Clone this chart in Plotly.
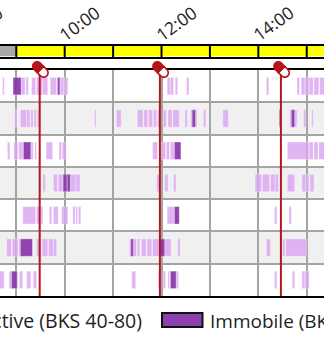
import numpy as np
import plotly.graph_objects as go

W, H = 324, 339

# ---------------- data ----------------
grid_hours = [9, 10, 11, 12, 13, 14, 15]
label_hours = [8, 10, 12, 14]
label_text = ["08:00", "10:00", "12:00", "14:00"]
monitor_start = "09:00"          # gray before, yellow after
view_range = ["08:39.8", "15:21.4"]
med_times = ["09:29", "11:58", "14:28"]
legend_labels = ["Active (BKS 40-80)", "Immobile (BKS 0-40)"]

active_r1 = [("08:43", "08:45"), ("09:06", "09:11"), ("09:12", "09:15"), ("09:19", "09:24"), ("09:25", "09:28"),
             ("09:29", "09:33"), ("09:33", "09:39"), ("09:42", "09:50"), ("09:54", "09:59"), ("10:00", "10:04"),
             ("12:07", "12:11"), ("12:11", "12:15"), ("12:17", "12:20"), ("12:31", "12:34"), ("14:10", "14:13"),
             ("14:48", "14:51"), ("14:53", "14:58"), ("14:58", "15:03"), ("15:03", "15:08"), ("15:09", "15:15"),
             ("15:16", "15:22")]
immobile_r1 = [("08:56", "09:06"), ("09:51", "09:54")]

active_r2 = [("08:58", "09:01"), ("09:05", "09:13"), ("09:13", "09:17"), ("09:18", "09:21"), ("09:22", "09:25"),
             ("09:26", "09:28"), ("10:37", "10:39"), ("11:04", "11:10"), ("11:30", "11:37"), ("11:38", "11:43"),
             ("11:44", "11:49"), ("11:50", "11:54"), ("11:55", "11:58"), ("12:02", "12:06"), ("12:08", "12:13"),
             ("12:14", "12:22"), ("12:29", "12:32"), ("12:36", "12:44"), ("12:52", "12:55"), ("13:16", "13:23"),
             ("14:39", "14:48"), ("14:56", "14:59"), ("15:06", "15:08")]
immobile_r2 = [("12:38", "12:42"), ("14:26", "14:28"), ("14:41", "14:45")]

active_r3 = [("08:49", "08:52"), ("08:57", "09:02"), ("09:03", "09:08"), ("09:07", "09:12"), ("09:18", "09:21"),
             ("09:23", "09:25"), ("09:37", "09:45"), ("09:53", "09:56"), ("09:57", "10:02"), ("11:49", "11:55"),
             ("12:00", "12:05"), ("12:06", "12:10"), ("12:11", "12:16"), ("14:36", "15:03"), ("15:03", "15:08"),
             ("15:09", "15:14"), ("15:15", "15:22")]
immobile_r3 = [("09:09", "09:18"), ("12:16", "12:24")]

active_r4 = [("09:33", "09:36"), ("09:46", "09:51"), ("09:52", "09:58"), ("10:07", "10:14"), ("10:14", "10:19"),
             ("11:54", "11:59"), ("12:04", "12:08"), ("12:15", "12:18"), ("13:56", "14:04"), ("14:05", "14:14"),
             ("14:15", "14:21"), ("14:21", "14:25"), ("14:36", "14:45"), ("14:54", "14:59"), ("15:00", "15:03"),
             ("15:04", "15:09")]
immobile_r4 = [("09:58", "10:03"), ("10:03", "10:07")]

active_r5 = [("09:08", "09:24"), ("09:25", "09:29"), ("09:30", "09:33"), ("09:41", "09:44"), ("09:46", "09:52"),
             ("09:56", "10:04"), ("10:10", "10:13"), ("10:14", "10:16"), ("10:17", "10:20"), ("12:07", "12:16"),
             ("14:20", "14:23"), ("14:38", "14:41")]
immobile_r5 = [("12:16", "12:22")]

active_r6 = [("08:48", "08:54"), ("08:55", "09:02"), ("09:03", "09:05"), ("09:25", "09:31"), ("09:32", "09:39"),
             ("09:40", "09:46"), ("09:46", "09:50"), ("11:20", "11:29"), ("11:30", "11:33"), ("11:35", "11:41"),
             ("11:42", "11:48"), ("11:49", "11:58"), ("12:04", "12:12"), ("12:20", "12:23"), ("14:10", "14:15"),
             ("14:30", "14:33"), ("14:34", "15:00")]
immobile_r6 = [("09:05", "09:20"), ("11:22", "11:25"), ("11:58", "12:04")]

active_r7 = [("08:37", "08:45"), ("08:51", "08:54"), ("09:01", "09:02"), ("09:04", "09:08"), ("09:13", "09:18"),
             ("09:21", "09:25"), ("11:23", "11:28"), ("11:56", "11:59"), ("12:02", "12:05"), ("12:08", "12:10"),
             ("12:18", "12:21"), ("14:20", "14:23"), ("14:42", "14:45"), ("14:54", "14:58"), ("14:58", "15:03")]
immobile_r7 = [("08:54", "09:01"), ("12:11", "12:18")]

active_rows = [active_r1, active_r2, active_r3, active_r4, active_r5, active_r6, active_r7]
immobile_rows = [immobile_r1, immobile_r2, immobile_r3, immobile_r4, immobile_r5, immobile_r6, immobile_r7]


def hrs(s):
    h, m = s.split(":")
    return int(h) + float(m) / 60.0


# ---------------- styles ----------------
C_ACTIVE = "rgba(220,168,241,0.85)"
C_IMMOBILE = "rgba(138,58,170,0.95)"
C_GRID = "#a4a4a4"
C_RED = "#b5151b"
FONT = "Open Sans"
TXT = "#1e1e1e"
n_rows = len(active_rows)

def py(px):  # pixel from top -> paper
    return 1 - px / H

fig = go.Figure()

def add_bars(rows, color, name):
    ys, bases, lens = [], [], []
    for i, evs in enumerate(rows):
        for a, b in evs:
            ys.append(i)
            bases.append(hrs(a))
            lens.append(hrs(b) - hrs(a))
    fig.add_trace(go.Bar(y=ys, x=lens, base=bases, orientation="h", width=0.54,
                         marker=dict(color=color, line=dict(color="rgba(255,255,255,0.55)", width=0.6)),
                         name=name, showlegend=False, xaxis="x", yaxis="y"))

add_bars(active_rows, C_ACTIVE, legend_labels[0])
add_bars(immobile_rows, C_IMMOBILE, legend_labels[1])

x0, x1 = hrs(view_range[0]), hrs(view_range[1])

# invisible trace for the top time bar subplot
fig.add_trace(go.Scatter(x=[x0], y=[0.5], mode="markers", marker=dict(opacity=0),
                         showlegend=False, hoverinfo="skip", xaxis="x2", yaxis="y2"))

shapes = []
# row backgrounds
for i in range(n_rows):
    if i % 2 == 1:
        shapes.append(dict(type="rect", xref="x", yref="y", x0=x0, x1=x1, y0=i - 0.5, y1=i + 0.5,
                           fillcolor="#f0f0f0", line=dict(width=0), layer="below"))
# time bar
shapes.append(dict(type="rect", xref="x2", yref="y2", x0=x0, x1=hrs(monitor_start), y0=0, y1=1,
                   fillcolor="#a9a9a9", line=dict(width=0), layer="below"))
shapes.append(dict(type="rect", xref="x2", yref="y2", x0=hrs(monitor_start), x1=x1, y0=0, y1=1,
                   fillcolor="#ffff00", line=dict(width=0), layer="below"))
# hour ticks on the time bar (slightly below the bar)
for h in grid_hours:
    shapes.append(dict(type="line", xref="x2", yref="paper", x0=h, x1=h, y0=py(57.5), y1=py(46),
                       line=dict(color="black", width=2)))

# capsule path
def capsule_half(sign, cx=0.7, cy=0.0, L=4.6, r=4.4, n=14):
    ux, uy = np.cos(np.pi / 4), np.sin(np.pi / 4)
    pxv, pyv = -uy, ux
    pts = [(cx + r * pxv, cy + r * pyv)]
    ex, ey = cx + sign * L * ux, cy + sign * L * uy
    for k in range(n + 1):
        a = np.pi * k / n
        vx = np.cos(a) * pxv + np.sin(a) * sign * ux
        vy = np.cos(a) * pyv + np.sin(a) * sign * uy
        pts.append((ex + r * vx, ey + r * vy))
    pts.append((cx - r * pxv, cy - r * pyv))
    return "M" + " L".join(f"{x:.2f},{-y:.2f}" for x, y in pts) + " Z"

red_half = capsule_half(-1)
white_half = capsule_half(1)
for t in med_times:
    th = hrs(t)
    shapes.append(dict(type="line", xref="x", yref="paper", x0=th, x1=th, y0=py(296), y1=py(70),
                       line=dict(color=C_RED, width=2), layer="above"))
    shapes.append(dict(type="path", xref="x", yref="paper", xsizemode="pixel", ysizemode="pixel",
                       xanchor=th, yanchor=py(69.5), path=white_half, fillcolor="white",
                       line=dict(color=C_RED, width=1.6), layer="above"))
    shapes.append(dict(type="path", xref="x", yref="paper", xsizemode="pixel", ysizemode="pixel",
                       xanchor=th, yanchor=py(69.5), path=red_half, fillcolor=C_RED,
                       line=dict(color=C_RED, width=1.6), layer="above"))

# legend swatch
shapes.append(dict(type="rect", xref="paper", yref="paper", x0=162 / W, x1=202.5 / W, y0=py(327), y1=py(313),
                   fillcolor="#8e3fae", line=dict(color="#111111", width=2)))

annotations = [
    dict(text=legend_labels[0], xref="paper", yref="paper", x=143.5 / W, y=py(320.5), xanchor="right",
         yanchor="middle", showarrow=False, font=dict(family=FONT, size=19.5, color=TXT)),
    dict(text=legend_labels[1], xref="paper", yref="paper", x=208 / W, y=py(320.5), xanchor="left",
         yanchor="middle", showarrow=False, font=dict(family=FONT, size=19, color=TXT)),
]

# time labels (including the one whose tick lies left of the visible range)
for h, lab in zip(label_hours, label_text):
    xp = (h - x0) / (x1 - x0)
    annotations.append(dict(text=lab, xref="paper", yref="paper", x=xp, y=py(49), xanchor="left",
                            yanchor="bottom", showarrow=False, textangle=-36, xshift=-13,
                            font=dict(family=FONT, size=17.5, color=TXT)))

fig.update_layout(
    width=W, height=H, margin=dict(l=0, r=0, t=0, b=0),
    paper_bgcolor="white", plot_bgcolor="rgba(0,0,0,0)",
    barmode="overlay", showlegend=False,
    shapes=shapes, annotations=annotations,
    xaxis=dict(domain=[0, 1], range=[x0, x1], anchor="y", tickvals=grid_hours, showticklabels=False,
               showgrid=True, gridcolor=C_GRID, gridwidth=2, zeroline=False,
               showline=True, linecolor="black", linewidth=2, mirror=True, ticks=""),
    yaxis=dict(domain=[py(296), py(70)], range=[n_rows - 0.5, -0.5], tickvals=[i + 0.5 for i in range(n_rows - 1)],
               showticklabels=False, showgrid=True, gridcolor=C_GRID, gridwidth=2, zeroline=False, ticks=""),
    xaxis2=dict(domain=[0, 1], range=[x0, x1], anchor="y2", side="top", tickvals=grid_hours,
                showticklabels=False, showgrid=False, zeroline=False,
                showline=True, linecolor="black", linewidth=2, mirror=True, ticks=""),
    yaxis2=dict(domain=[py(56.5), py(45.5)], range=[0, 1], showticklabels=False, showgrid=False,
                zeroline=False, ticks="", anchor="x2"),
)

fig.write_html("out.html")
